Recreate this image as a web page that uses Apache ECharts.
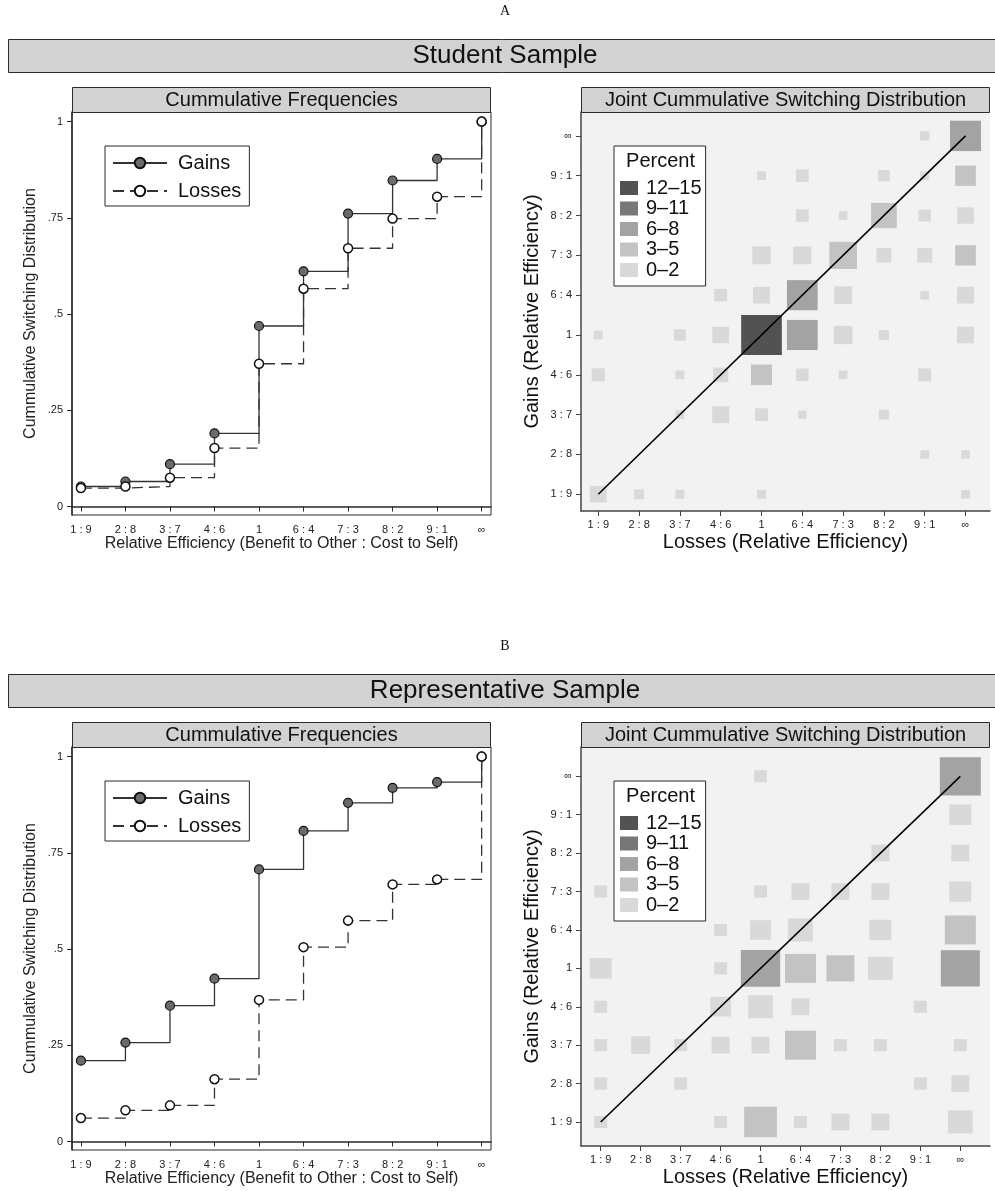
<!DOCTYPE html>
<html>
<head>
<meta charset="utf-8">
<script src="https://cdn.jsdelivr.net/npm/echarts@6/dist/echarts.min.js"></script>
<style>
html,body{margin:0;padding:0;background:#fff;}
#chart{width:995px;height:1191px;}
</style>
</head>
<body>
<div id="chart"></div>
<script>
// ---------- data ----------
const tickLabels = ['1 : 9','2 : 8','3 : 7','4 : 6','1','6 : 4','7 : 3','8 : 2','9 : 1','\u221e'];
const yTickValues = [0, 0.25, 0.5, 0.75, 1];
const yTickLabels = ['0', '.25', '.5', '.75', '1'];
const seriesNames = ['Gains', 'Losses'];
const binNames = ['12\u201315', '9\u201311', '6\u20138', '3\u20135', '0\u20132'];
const binLower = [12, 9, 6, 3, 0];

// Panel A: Student sample, cumulative frequencies (one value per tick)
const studentGains  = [0.052, 0.065, 0.110, 0.190, 0.469, 0.611, 0.761, 0.847, 0.903, 1.000];
const studentLosses = [0.048, 0.052, 0.075, 0.152, 0.371, 0.566, 0.671, 0.748, 0.805, 1.000];
// Panel B: Representative sample
const repGains  = [0.210, 0.257, 0.353, 0.423, 0.707, 0.807, 0.880, 0.919, 0.934, 1.000];
const repLosses = [0.061, 0.081, 0.094, 0.162, 0.368, 0.505, 0.574, 0.668, 0.681, 1.000];

// Joint distribution: [losses tick #, gains tick #, percent]
const studentJoint = [
  [9,10,0.65],[10,10,7.27],
  [5,9,0.61],[6,9,1.22],[8,9,1.03],[9,9,0.65],[10,9,3.24],
  [6,8,1.22],[7,8,0.57],[8,8,4.99],[9,8,1.14],[10,8,2.11],
  [5,7,2.53],[6,7,2.53],[7,7,5.80],[8,7,1.70],[9,7,1.70],[10,7,3.24],
  [4,6,1.22],[5,6,2.19],[6,6,7.13],[7,6,2.45],[9,6,0.57],[10,6,2.19],
  [1,5,0.61],[3,5,1.03],[4,5,2.11],[5,5,12.5],[6,5,7.13],[7,5,2.64],[8,5,0.76],[10,5,2.19],
  [1,4,1.34],[3,4,0.61],[4,4,1.70],[5,4,3.33],[6,4,1.22],[7,4,0.57],[9,4,1.28],
  [3,3,0.61],[4,3,2.19],[5,3,1.28],[6,3,0.52],[8,3,0.76],
  [9,2,0.57],[10,2,0.57],
  [1,1,2.11],[2,1,0.76],[3,1,0.61],[5,1,0.61],[10,1,0.57]
];
const repJoint = [
  [5,10,0.80],[10,10,8.00],
  [10,9,2.30],
  [8,8,1.54],[10,8,1.54],
  [1,7,0.80],[5,7,0.80],[6,7,1.54],[7,7,1.54],[8,7,1.54],[10,7,2.30],
  [4,6,0.80],[5,6,2.10],[6,6,2.90],[8,6,2.30],[10,6,4.57],
  [1,5,2.30],[4,5,0.80],[5,5,7.38],[6,5,4.57],[7,5,3.73],[8,5,2.90],[10,5,7.23],
  [1,4,0.80],[4,4,2.10],[5,4,2.90],[6,4,1.54],[9,4,0.80],
  [1,3,0.80],[2,3,1.72],[3,3,0.80],[4,3,1.54],[5,3,1.54],[6,3,4.57],[7,3,0.80],[8,3,0.80],[10,3,0.80],
  [1,2,0.80],[3,2,0.80],[9,2,0.80],[10,2,1.54],
  [1,1,0.80],[4,1,0.80],[5,1,5.09],[6,1,0.80],[7,1,1.54],[8,1,1.54],[10,1,2.90]
];

// ---------- styles ----------
const FONT = 'Liberation Sans, Arial, Helvetica, sans-serif';
const binColors = ['#525252', '#777777', '#a3a3a3', '#c3c3c3', '#d9d9d9'];
const headerFill = '#d2d2d2';
const edge = '#2a2a2a';
const ticks = [1,2,3,4,5,6,7,8,9,10];

function binOf(p){ for (let i=0;i<binLower.length;i++){ if (p>=binLower[i]) return i; } return binLower.length-1; }

const panels = [
  {dy:0, letter:'A', title:'Student Sample', gains:studentGains, losses:studentLosses, joint:studentJoint,
   k:11.5, aspect:1.02, hx:[0.576,10.6], hy:[0.58,10.6], hTop:112, hBottom:511},
  {dy:635, letter:'B', title:'Representative Sample', gains:repGains, losses:repLosses, joint:repJoint,
   k:14.5, aspect:1.07, hx:[0.507,10.743], hy:[0.375,10.763], hTop:747, hBottom:1146}
];

const grid=[], xAxis=[], yAxis=[], series=[], legend=[], graphic=[];

function catAxisLabel(margin){
  return {customValues: ticks, formatter: v => tickLabels[Math.round(v)-1] || '', fontSize:11, color:'#222', fontFamily:FONT, margin:margin};
}

panels.forEach((P, pi) => {
  const dy = P.dy;
  // --- line plot grid
  const gL = grid.length;
  grid.push({left:72, top:112+dy, width:419, height:403, show:true, backgroundColor:'#fff', borderColor:edge, borderWidth:1, containLabel:false});
  xAxis.push({type:'value', gridIndex:gL, min:0.8, max:10.21,
    name:'Relative Efficiency (Benefit to Other : Cost to Self)', nameLocation:'middle', nameGap:21,
    nameTextStyle:{fontSize:16, color:'#222', fontFamily:FONT},
    axisLine:{show:true, lineStyle:{color:edge, width:1.5}},
    axisTick:{show:true, customValues:ticks, length:5, lineStyle:{color:edge, width:1}},
    axisLabel:catAxisLabel(9), splitLine:{show:false}});
  yAxis.push({type:'value', gridIndex:gL, min:-0.022, max:1.025,
    name:'Cummulative Switching Distribution', nameLocation:'middle', nameGap:33,
    nameTextStyle:{fontSize:16, color:'#222', fontFamily:FONT},
    axisLine:{show:true, lineStyle:{color:edge, width:1.5}},
    axisTick:{show:true, customValues:yTickValues, length:5, lineStyle:{color:edge, width:1}},
    axisLabel:{customValues:yTickValues, formatter: v => yTickLabels[yTickValues.indexOf(Math.round(v*100)/100)] || '', fontSize:11, color:'#222', fontFamily:FONT, margin:9},
    splitLine:{show:false}});
  series.push({type:'line', name:seriesNames[0], xAxisIndex:gL, yAxisIndex:gL, step:'end',
    data:P.gains.map((v,i)=>[i+1,v]), symbol:'circle', symbolSize:9, showAllSymbol:true,
    itemStyle:{color:'#6a6a6a', borderColor:'#111', borderWidth:1.2},
    lineStyle:{color:'#333', width:1.3}, z:3, animation:false});
  series.push({type:'line', name:seriesNames[1], xAxisIndex:gL, yAxisIndex:gL, step:'end',
    data:P.losses.map((v,i)=>[i+1,v]), symbol:'circle', symbolSize:9, showAllSymbol:true,
    itemStyle:{color:'#ffffff', borderColor:'#111', borderWidth:1.5},
    lineStyle:{color:'#333', width:1.3, type:[11,6]}, z:4, animation:false});
  legend.push({data:seriesNames, left:105, top:146+dy, orient:'vertical', itemWidth:54, itemHeight:13, itemGap:8,
    padding:[7,8,5,7], borderColor:edge, borderWidth:1, backgroundColor:'#fff', selectedMode:false,
    textStyle:{fontSize:20, color:'#111', fontFamily:FONT, padding:[0,0,0,6]}});

  // --- joint distribution grid
  const gH = grid.length;
  grid.push({left:581, top:P.hTop, width:409, height:P.hBottom-P.hTop, show:true, backgroundColor:'#f2f2f2', borderWidth:0, containLabel:false});
  xAxis.push({type:'value', gridIndex:gH, min:P.hx[0], max:P.hx[1],
    name:'Losses (Relative Efficiency)', nameLocation:'middle', nameGap:21,
    nameTextStyle:{fontSize:20, color:'#111', fontFamily:FONT},
    axisLine:{show:true, lineStyle:{color:'#444', width:1.5}},
    axisTick:{show:true, customValues:ticks, length:5, lineStyle:{color:'#444', width:1}},
    axisLabel:catAxisLabel(8), splitLine:{show:false}});
  yAxis.push({type:'value', gridIndex:gH, min:P.hy[0], max:P.hy[1],
    name:'Gains (Relative Efficiency)', nameLocation:'middle', nameGap:39,
    nameTextStyle:{fontSize:20, color:'#111', fontFamily:FONT},
    axisLine:{show:true, lineStyle:{color:'#444', width:1.5}},
    axisTick:{show:true, customValues:ticks, length:5, lineStyle:{color:'#444', width:1}},
    axisLabel:catAxisLabel(9), splitLine:{show:false}});
  binNames.forEach((bn, b) => {
    series.push({type:'scatter', name:bn, xAxisIndex:gH, yAxisIndex:gH, symbol:'rect',
      data:P.joint.filter(d => binOf(d[2])===b),
      symbolSize: v => { const w = P.k*Math.sqrt(v[2]); return [w, w/P.aspect]; },
      itemStyle:{color:binColors[b], opacity:1}, z:2, animation:false, emphasis:{disabled:true}});
  });
  series.push({type:'line', name:'diag'+pi, xAxisIndex:gH, yAxisIndex:gH, data:[[1,1],[10,10]],
    symbol:'none', lineStyle:{color:'#000', width:1.6}, z:5, animation:false, silent:true});
  legend.push({data:binNames, left:614, top:146+dy, orient:'vertical', icon:'rect', itemWidth:18, itemHeight:14, itemGap:0.5,
    padding:[32,4,6,6], borderColor:edge, borderWidth:1, backgroundColor:'#fff', selectedMode:false,
    textStyle:{fontSize:20, color:'#111', fontFamily:FONT, padding:[0,0,0,3]}});

  // --- decorations: panel letter, banner, sub-headers, legend title
  graphic.push({type:'text', x:505, y:11+dy, style:{text:P.letter, font:'14px "Liberation Serif", "DejaVu Serif", serif', fill:'#111', textAlign:'center', textVerticalAlign:'middle'}});
  graphic.push({type:'rect', shape:{x:8.5, y:39.5+dy, width:1000, height:33}, style:{fill:headerFill, stroke:edge, lineWidth:1}, z:1});
  graphic.push({type:'text', x:505, y:56+dy, style:{text:P.title, font:'26px '+FONT, fill:'#111', textAlign:'center', textVerticalAlign:'middle'}, z:2});
  graphic.push({type:'rect', shape:{x:72.5, y:87.5+dy, width:418, height:25}, style:{fill:headerFill, stroke:edge, lineWidth:1}, z:1});
  graphic.push({type:'text', x:281.5, y:100+dy, style:{text:'Cummulative Frequencies', font:'20px '+FONT, fill:'#111', textAlign:'center', textVerticalAlign:'middle'}, z:2});
  graphic.push({type:'rect', shape:{x:581.5, y:87.5+dy, width:408, height:25}, style:{fill:headerFill, stroke:edge, lineWidth:1}, z:1});
  graphic.push({type:'text', x:785.5, y:100+dy, style:{text:'Joint Cummulative Switching Distribution', font:'20px '+FONT, fill:'#111', textAlign:'center', textVerticalAlign:'middle'}, z:2});
  graphic.push({type:'text', x:660.5, y:161+dy, style:{text:'Percent', font:'20px '+FONT, fill:'#111', textAlign:'center', textVerticalAlign:'middle'}, z:200});
});

const chart = echarts.init(document.getElementById('chart'), null, {renderer:'canvas'});
chart.setOption({
  backgroundColor:'#fff',
  animation:false,
  textStyle:{fontFamily:FONT},
  grid, xAxis, yAxis, series, legend, graphic
});
</script>
</body>
</html>
